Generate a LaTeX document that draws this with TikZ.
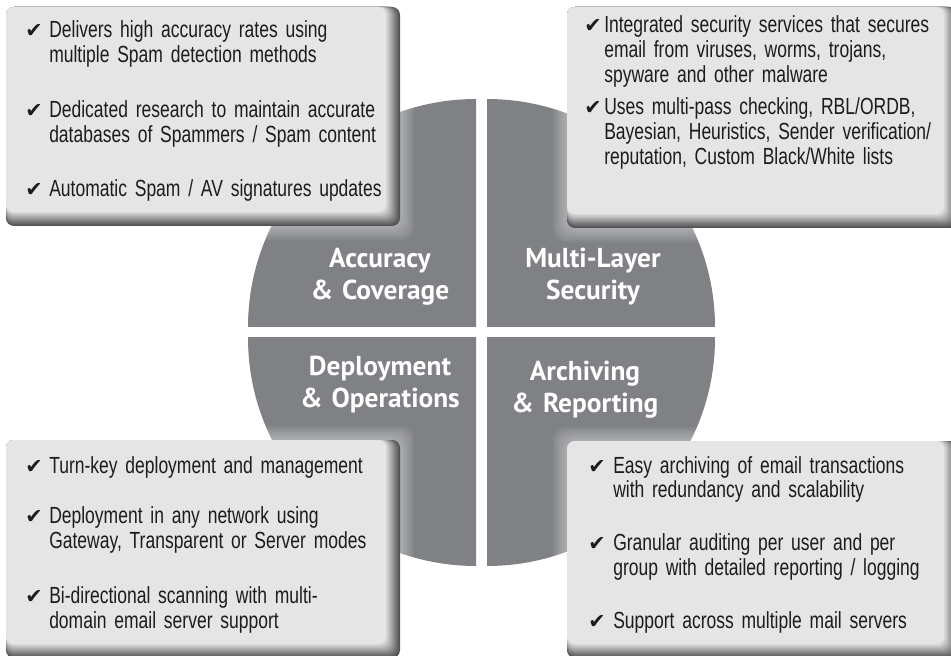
\documentclass[tikz,border=0pt]{standalone}
\usepackage{fontspec}
\setmainfont[FakeStretch=0.75]{Liberation Sans}
\newfontfamily\headfont{PT Sans}
\newfontfamily\tickfont{DejaVu Sans}
\usetikzlibrary{positioning}

\definecolor{discgray}{RGB}{128,129,133}
\definecolor{boxface}{RGB}{229,229,230}
\definecolor{boxshade}{RGB}{82,82,84}
\definecolor{txtdark}{RGB}{30,27,28}

% narrower word spaces
\protected\def\bodyspacing{\spaceskip=3pt plus 1pt minus 0.5pt\relax}
\protected\def\headspacing{\spaceskip=4pt plus 1pt minus 1pt\relax}

% panel with a dark bevel on its right and bottom side
\newcommand{\panelbox}[4]{%
  \foreach \g in {1,...,7}
    \fill[white, opacity=0.06, rounded corners=9] (#1-2*\g,#2-2*\g) rectangle (#3+2*\g,#4+2*\g);
  \foreach \i in {0,...,14}{
    \pgfmathtruncatemacro{\pct}{100*\i/14}
    \fill[boxface!\pct!boxshade, rounded corners=6] (#1,#2) rectangle (#3-\i,#4-\i);
  }
}

\tikzset{
  quadlabel/.style={anchor=base, inner sep=0pt, text width=170pt, align=center, text=white,
    font=\headfont\bfseries\fontsize{20.5}{24}\selectfont\headspacing},
  bullet/.style={anchor=base west, inner sep=0pt, text width=270pt, align=left, text=txtdark,
    font=\fontsize{17.5}{18.75}\selectfont\bodyspacing},
  tick/.style={anchor=base west, inner sep=0pt, text=txtdark, font=\tickfont\fontsize{15.5}{15.5}\selectfont},
}

\begin{document}
\begin{tikzpicture}[x=0.75pt,y=0.75pt,yscale=-1,xscale=1]
\useasboundingbox (0,0) rectangle (951,656);
\clip (0,0) rectangle (951,656);

%Shape: four quarter discs
\foreach \sx/\sy in {1/1,-1/1,1/-1,-1/-1}{
  \begin{scope}
    \clip ({481.5+5.5*\sx},{332.5+5.5*\sy}) rectangle ++({240*\sx},{240*\sy});
    \fill[discgray] ({481.5+5.5*\sx},{332.5+5.5*\sy}) circle (228);
  \end{scope}
}

% Text Node
\node[quadlabel] (accuracy) at (380,268) {Accuracy\\\& Coverage};
% Text Node
\node[quadlabel] (security) at (593,268) {Multi-Layer\\Security};
% Text Node
\node[quadlabel] (deploy) at (380,376) {Deployment\\\& Operations};
% Text Node
\node[quadlabel] (archive) at (585,381) {Archiving\\\& Reporting};

%Shape: panels
\panelbox{6}{7}{400}{226}
\panelbox{567}{7}{958}{228}
\panelbox{6}{440}{400}{658}
\panelbox{567}{441}{958}{658}

% Text Node
\node[tick] (acc1t) at (25,38) {✔};
\node[bullet] (acc1) at (49,38) {Delivers high accuracy rates using\\multiple Spam detection methods};
\node[tick] (acc2t) at (25,118) {✔};
\node[bullet] (acc2) at (49,118) {Dedicated research to maintain accurate\\databases of Spammers / Spam content};
\node[tick] (acc3t) at (25,197) {✔};
\node[bullet] (acc3) at (49,197) {Automatic Spam / AV signatures updates};

% Text Node
\node[tick] (sec1t) at (584,33) {✔};
\node[bullet] (sec1) at (604,33) {Integrated security services that secures\\email from viruses, worms, trojans,\\spyware and other malware};
\node[tick] (sec2t) at (584,115) {✔};
\node[bullet] (sec2) at (604,115) {Uses multi-pass checking, RBL/ORDB,\\Bayesian, Heuristics, Sender verification/\\reputation, Custom Black/White lists};

% Text Node
\node[tick] (dep1t) at (25,473) {✔};
\node[bullet] (dep1) at (49,473) {Turn-key deployment and management};
\node[tick] (dep2t) at (25,523) {✔};
\node[bullet] (dep2) at (49,523) {Deployment in any network using\\Gateway, Transparent or Server modes};
\node[tick] (dep3t) at (25,603) {✔};
\node[bullet] (dep3) at (49,603) {Bi-directional scanning with multi-\\domain email server support};

% Text Node
\node[tick] (arc1t) at (588,473) {✔};
\node[bullet] (arc1) at (613,473) {Easy archiving of email transactions\\with redundancy and scalability};
\node[tick] (arc2t) at (588,550) {✔};
\node[bullet] (arc2) at (613,550) {Granular auditing per user and per\\group with detailed reporting / logging};
\node[tick] (arc3t) at (588,628) {✔};
\node[bullet] (arc3) at (613,628) {Support across multiple mail servers};

\end{tikzpicture}
\end{document}
